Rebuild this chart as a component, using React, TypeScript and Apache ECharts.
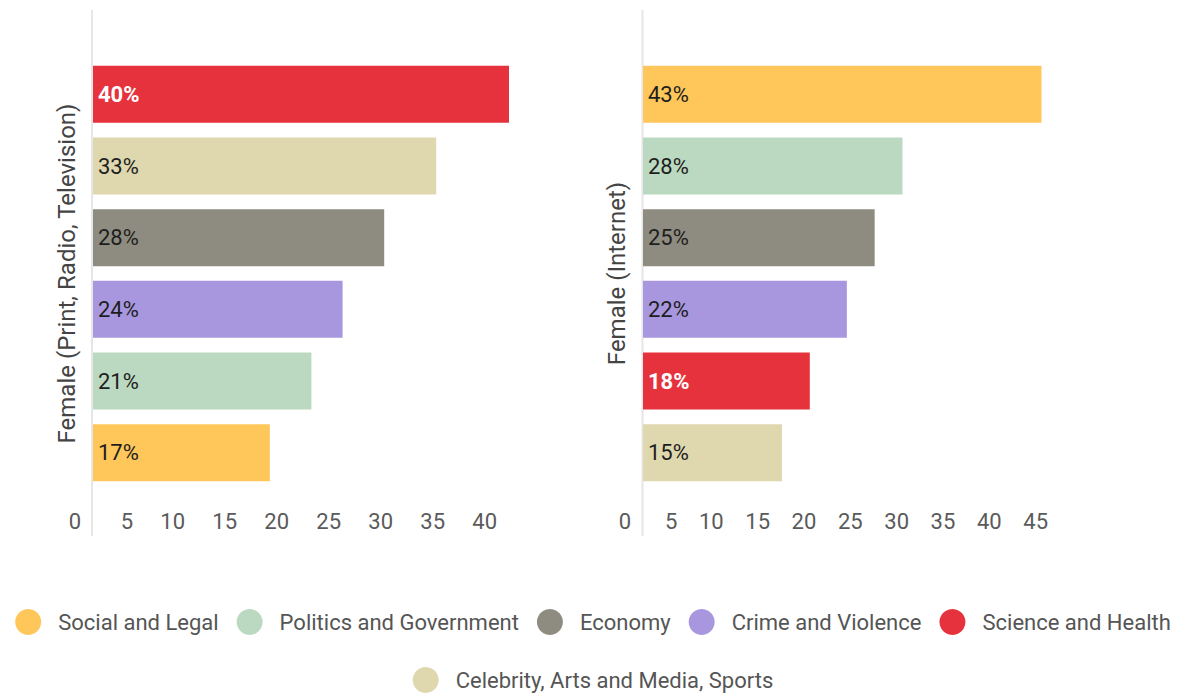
import React, { useEffect, useRef } from "react";
import * as echarts from "echarts";

// ---- data ----
const topics = [
  "Social and Legal",
  "Politics and Government",
  "Economy",
  "Crime and Violence",
  "Science and Health",
  "Celebrity, Arts and Media, Sports",
];
const topicColors = ["#FFC65A", "#BBD9C0", "#8E8C80", "#A897DF", "#E6323D", "#DFD8AF"];

const printCategories = [
  "Science and Health",
  "Celebrity, Arts and Media, Sports",
  "Economy",
  "Crime and Violence",
  "Politics and Government",
  "Social and Legal",
];
const printValues = [40, 33, 28, 24, 21, 17];

const internetCategories = [
  "Social and Legal",
  "Politics and Government",
  "Economy",
  "Crime and Violence",
  "Science and Health",
  "Celebrity, Arts and Media, Sports",
];
const internetValues = [43, 28, 25, 22, 18, 15];

const printAxisMax = 40;
const internetAxisMax = 45;
const tickStep = 5;

const panelNames = ["Female (Print, Radio, Television)", "Female (Internet)"];

const FONT = "Roboto, 'Noto Sans', sans-serif";

export default function App() {
  const ref = useRef<HTMLDivElement>(null);

  useEffect(() => {
    if (!ref.current) return;
    const chart = echarts.init(ref.current, undefined, { renderer: "svg" });

    const panels = [
      { cats: printCategories, vals: printValues, max: printAxisMax },
      { cats: internetCategories, vals: internetValues, max: internetAxisMax },
    ];

    const series: any[] = [];
    panels.forEach((p, pi) => {
      topics.forEach((t, ti) => {
        series.push({
          name: t,
          type: "bar",
          xAxisIndex: pi,
          yAxisIndex: pi,
          stack: "panel" + pi,
          barWidth: 57,
          itemStyle: { color: topicColors[ti] },
          label: {
            show: true,
            position: "insideLeft",
            distance: 5,
            formatter: "{c}%",
            fontFamily: FONT,
            fontSize: 22,
            fontWeight: t === "Science and Health" ? "bold" : "normal",
            color: t === "Science and Health" ? "#ffffff" : "#1e1e1e",
          },
          data: p.cats.map((c, i) => (c === t ? p.vals[i] : "-")),
        });
      });
    });

    const xAxisCommon = (max: number, idx: number) => ({
      type: "value",
      gridIndex: idx,
      min: 0,
      max,
      interval: tickStep,
      axisLine: { show: false },
      axisTick: { show: false },
      splitLine: { show: false },
      axisLabel: {
        fontFamily: FONT,
        fontSize: 22,
        color: "#5a5a5a",
        align: "right",
        padding: [0, 12, 0, 0],
        margin: 22,
        showMaxLabel: true,
      },
    });

    const yAxisCommon = (cats: string[], idx: number) => ({
      type: "category",
      gridIndex: idx,
      data: cats,
      inverse: true,
      axisLine: { show: false },
      axisTick: { show: false },
      axisLabel: { show: false },
      name: panelNames[idx],
      nameLocation: "middle",
      nameGap: 14,
      nameTextStyle: { fontFamily: FONT, fontSize: 24, color: "#444444" },
    });

    const legendCommon = {
      left: "center",
      icon: "circle",
      itemWidth: 50,
      itemHeight: 26,
      itemGap: 18,
      textStyle: { fontFamily: FONT, fontSize: 22, color: "#555555" },
      selectedMode: false,
    };

    chart.setOption({
      animation: false,
      textStyle: { fontFamily: FONT },
      grid: [
        { left: 93, top: 58.5, width: 416, height: 430 },
        { left: 643, top: 58.5, width: 417, height: 430 },
      ],
      xAxis: [xAxisCommon(printAxisMax, 0), xAxisCommon(internetAxisMax, 1)],
      yAxis: [yAxisCommon(printCategories, 0), yAxisCommon(internetCategories, 1)],
      legend: [
        { ...legendCommon, data: topics.slice(0, 5), top: 604 },
        { ...legendCommon, data: topics.slice(5), top: 662 },
      ],
      graphic: [
        {
          type: "line",
          shape: { x1: 92, y1: 10, x2: 92, y2: 536 },
          style: { stroke: "#e6e6e6", lineWidth: 2 },
          silent: true,
        },
        {
          type: "line",
          shape: { x1: 642.5, y1: 10, x2: 642.5, y2: 536 },
          style: { stroke: "#e6e6e6", lineWidth: 2 },
          silent: true,
        },
      ],
      series,
    });

    return () => chart.dispose();
  }, []);

  return (
    <div
      ref={ref}
      style={{ position: "fixed", left: 0, top: 0, width: 1186, height: 695, background: "#fff" }}
    />
  );
}
